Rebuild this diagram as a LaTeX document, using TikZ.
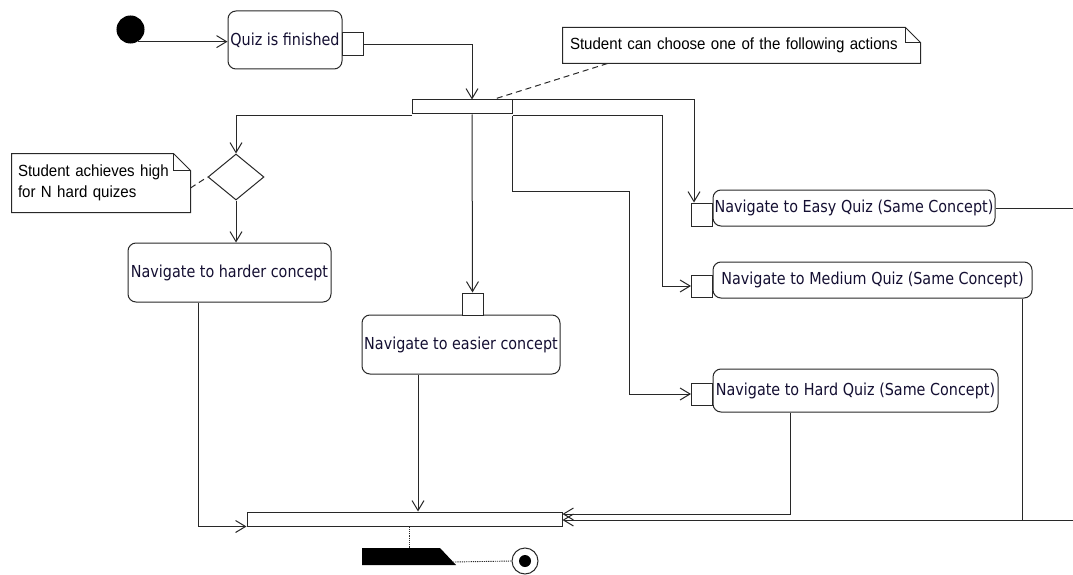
\documentclass[tikz,border=0pt]{standalone}
\usepackage{fontspec}
\usetikzlibrary{arrows.meta,shapes.geometric,calc}
\newfontfamily\actfont[FakeStretch=0.87]{DejaVu Sans}
\newfontfamily\notefont[FakeStretch=0.93]{Liberation Sans}
\definecolor{ln}{RGB}{40,40,40}
\definecolor{tx}{RGB}{20,15,50}
\tikzset{
  act/.style={draw=ln, rounded corners=8pt, inner sep=0pt, text=tx,
    font=\actfont\fontsize{16.5}{19}\selectfont},
  pinbox/.style={draw=ln, fill=white, inner sep=0pt, minimum width=21pt, minimum height=22pt},
  barbox/.style={draw=ln, fill=white, inner sep=0pt},
  flow/.style={-{Straight Barb[length=10pt,width=12pt]}},
  notetext/.style={inner sep=0pt, text=black, align=left,
    font=\notefont\fontsize{16.2}{21}\selectfont},
  notelink/.style={dash pattern=on 6pt off 4pt},
  finlink/.style={line width=0.9pt, dash pattern=on 1.2pt off 1pt}
}
\begin{document}
\begin{tikzpicture}[x=1pt,y=-1pt, line width=1pt, color=ln]
\useasboundingbox (0,0) rectangle (1073,575);

% initial node
\node[circle, fill=black, draw=black, minimum size=27pt, inner sep=0pt] (init) at (130.5,29.5) {};

% quiz is finished
\node[act, minimum width=114pt, minimum height=58pt] (quiz) at (285,40) {Quiz is finished};
\node[pinbox, minimum height=23pt] (qpin) at (352.5,44.5) {};

% fork bar
\node[barbox, minimum width=100pt, minimum height=14pt] (fork) at (462,107) {};

% note 1
\node[notetext, minimum width=357pt, minimum height=35pt, text width=343pt] (note1) at (741.5,45.5) {Student can choose one of the following actions};
\draw (note1.south west) -- (note1.north west) -- ([xshift=-15pt]note1.north east)
  -- ([yshift=-15pt]note1.north east) -- (note1.south east) -- cycle;
\draw ([xshift=-15pt]note1.north east) |- ([yshift=-15pt]note1.north east);

% decision
\node[diamond, draw=ln, fill=white, inner sep=0pt, minimum width=56pt, minimum height=46pt] (dec) at (236,177) {};

% note 2
\node[notetext, minimum width=178pt, minimum height=58pt, text width=166pt] (note2) at (101,183) {Student achieves high\\for N hard quizes};
\draw (note2.south west) -- (note2.north west) -- ([xshift=-17pt]note2.north east)
  -- ([yshift=-17pt]note2.north east) -- (note2.south east) -- cycle;
\draw ([xshift=-17pt]note2.north east) |- ([yshift=-17pt]note2.north east);

% actions
\node[act, minimum width=203pt, minimum height=59pt] (harder) at (229.5,272.5) {Navigate to harder concept};
\node[act, minimum width=198pt, minimum height=59pt] (easier) at (461,344.5) {Navigate to easier concept};
\node[pinbox] (epin) at (472.5,304) {};

\node[act, minimum width=282pt, minimum height=36pt] (easy) at (854,208) {Navigate to Easy Quiz (Same Concept)};
\node[pinbox, minimum height=23pt] (easypin) at (702,214.5) {};
\node[act, minimum width=319pt, minimum height=36pt] (med) at (872.5,280) {Navigate to Medium Quiz (Same Concept)};
\node[pinbox] (medpin) at (702,286) {};
\node[act, minimum width=285pt, minimum height=43pt] (hard) at (855.5,390.5) {Navigate to Hard Quiz (Same Concept)};
\node[pinbox] (hardpin) at (702,394) {};

% join bar
\node[barbox, minimum width=315pt, minimum height=14pt] (join) at (404.5,519) {};

% final area
\coordinate (rE) at (1073,208);
\coordinate (rB) at (1073,520);
\coordinate (sigtop) at (409,548);
\coordinate (sigtip) at (453,562);
\fill[black] (362,548) -- (440,548) -- (456,565) -- (362,565) -- cycle;
\node[circle, draw=ln, fill=white, minimum size=26pt, inner sep=0pt] (fin) at (525,561) {};
\fill[black] (fin.center) circle (6pt);

% connectors
\draw[flow] (init.-60) -- (init.-60 -| quiz.west);
\draw[flow] (qpin.east) -| ([xshift=10pt]fork.north);
\draw[notelink] ([xshift=45pt]note1.south west) -- ([xshift=31pt]fork.north);
\draw[flow] ([yshift=-1.5pt]fork.south west) -| (dec.north);
\draw[notelink] ([yshift=-5pt]note2.east) -- (dec.west);
\draw[flow] (dec.south) -- (dec.south |- harder.north);
\draw[flow] ([xshift=10pt]fork.south) -- (epin.north);
\draw[flow] (fork.north east) -| ([xshift=-8pt]easypin.north);
\draw[flow] ([yshift=-1.5pt]fork.south east) -- ++(150,0) |- (medpin.west);
\draw[flow] ([yshift=-1.5pt]fork.south east) -- ++(0,75) -- ++(117,0) |- (hardpin.west);
\draw (easy.east) -- (rE);
\draw[flow] (rB) -- (rB -| join.east);
\draw ([xshift=-10pt]med.south east) -- ([xshift=-10pt]med.south east |- rB);
\draw[flow] ([xshift=-65pt]hard.south) |- ([yshift=5pt]join.east);
\draw[flow] ([xshift=-31pt]harder.south) |- (join.south west);
\draw[flow] ([xshift=-43pt]easier.south) -- ([xshift=-43pt]easier.south |- join.north);
\draw[finlink] ([xshift=4.5pt]join.south) -- (sigtop);
\draw[finlink] (sigtip) -- (fin.west);
\end{tikzpicture}
\end{document}
